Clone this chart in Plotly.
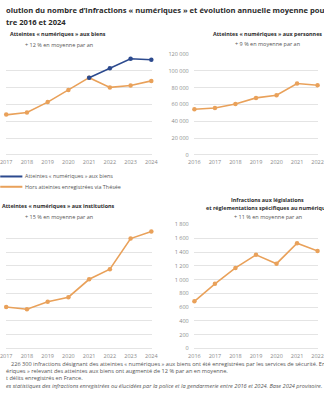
import plotly.graph_objects as go

W, H = 324, 400

years = [2016, 2017, 2018, 2019, 2020, 2021, 2022, 2023, 2024]
year_labels = [str(y) for y in years]

biens_hors_thesee = [90000, 96000, 100700, 125600, 154200, 183700, 160500, 165000, 176000]
biens_total = [None, None, None, None, None, 183700, 206000, 228600, 226300]
personnes = [54300, 55800, 60500, 67800, 70900, 84900, 82900, 93000, 104000]
institutions = [1400, 1507, 1426, 1695, 1862, 2511, 2879, 3989, 4248]
legislations = [684, 939, 1170, 1359, 1231, 1529, 1416, 1490, 1580]

ORANGE = "#E9A15A"
BLUE = "#2C4A8E"
GRID = "#E4E4E4"
TICK = "#8A8A8A"
TEXT = "#555555"
DARK = "#2B2B2B"
FONT = "Open Sans"


def px(x):
    return x / W


def py(y):
    return 1 - y / H


fig = go.Figure()

dom_x_left = [px(0), px(152)]
dom_x_right = [px(195), 1.0]
dom_y_top = [py(154), py(51)]
dom_y_bot = [py(351.5), py(225)]


def add_line(x, y, color, xa, ya, name):
    fig.add_trace(go.Scatter(
        x=x, y=y, mode="lines+markers", name=name,
        line=dict(color=color, width=1.6),
        marker=dict(color=color, size=4.5),
        xaxis=xa, yaxis=ya, showlegend=False, cliponaxis=False,
        connectgaps=False,
    ))


add_line(years, biens_hors_thesee, ORANGE, "x", "y", "Hors atteintes enregistrées via Thésée")
add_line(years, biens_total, BLUE, "x", "y", "Atteintes « numériques » aux biens")
add_line(years, personnes, ORANGE, "x2", "y2", "Atteintes « numériques » aux personnes")
add_line(years, institutions, ORANGE, "x3", "y3", "Atteintes « numériques » aux institutions")
add_line(years, legislations, ORANGE, "x4", "y4", "Infractions aux législations")

xcommon = dict(tickmode="array", tickvals=years, ticktext=year_labels, showgrid=False,
               zeroline=False, showline=False, ticks="", ticklabeloverflow="allow",
               tickfont=dict(family=FONT, size=5.5, color=TICK), ticklabelstandoff=3)
ycommon = dict(showgrid=True, gridcolor=GRID, gridwidth=1, zeroline=True,
               zerolinecolor=GRID, zerolinewidth=1, showline=False, ticks="",
               tickformat=",d", tickfont=dict(family=FONT, size=5.5, color=TICK),
               ticklabelstandoff=4)

fig.update_layout(
    width=W, height=H, margin=dict(l=0, r=0, t=0, b=0),
    paper_bgcolor="white", plot_bgcolor="white",
    separators=", ",
    font=dict(family=FONT, color=TEXT),
    showlegend=False,
    xaxis=dict(domain=dom_x_left, range=[2016.99, 2024.05], anchor="y", **xcommon),
    yaxis=dict(domain=dom_y_top, range=[0, 240000], dtick=40000, anchor="x",
               showticklabels=False, **ycommon),
    xaxis2=dict(domain=dom_x_right, range=[2015.97, 2022.02], anchor="y2", **xcommon),
    yaxis2=dict(domain=dom_y_top, range=[0, 120000], dtick=20000, anchor="x2", **ycommon),
    xaxis3=dict(domain=dom_x_left, range=[2016.99, 2024.05], anchor="y3", **xcommon),
    yaxis3=dict(domain=dom_y_bot, range=[0, 4500], dtick=500, anchor="x3",
                showticklabels=False, **ycommon),
    xaxis4=dict(domain=dom_x_right, range=[2015.97, 2022.02], anchor="y4", **xcommon),
    yaxis4=dict(domain=dom_y_bot, range=[0, 1800], dtick=200, anchor="x4", **ycommon),
)

annotations = []


def txt(x, y, text, size, color, anchor="left", bold=False, italic=False, xshift=0):
    t = text
    if bold:
        t = "<b>" + t + "</b>"
    if italic:
        t = "<i>" + t + "</i>"
    annotations.append(dict(
        x=px(x), y=py(y), xref="paper", yref="paper", text=t, showarrow=False,
        xanchor=anchor, yanchor="middle", borderpad=0, xshift=xshift,
        font=dict(family=FONT, size=size, color=color),
    ))


# main title (cropped at the left and right edges in the reference)
txt(0, 6.5, "olution du nombre d’infractions « numériques » et évolution annuelle moyenne pour chaque type d’infraction",
    7.6, DARK, bold=True, xshift=-1)
txt(0, 18.5, "tre 2016 et 2024", 7.6, DARK, bold=True, xshift=-1)

# panel titles
txt(54, 31, "Atteintes « numériques » aux biens", 5.4, DARK, anchor="center", bold=True)
txt(55, 42, "+ 12 % en moyenne par an", 5.5, TEXT, anchor="center")
txt(272, 31, "Atteintes « numériques » aux personnes", 5.4, DARK, anchor="center", bold=True)
txt(272, 41, "+ 9 % en moyenne par an", 5.5, TEXT, anchor="center")
txt(55, 206, "Atteintes « numériques » aux institutions", 5.4, DARK, anchor="center", bold=True)
txt(55, 217, "+ 15 % en moyenne par an", 5.5, TEXT, anchor="center")
txt(272, 200, "Infractions aux législations", 5.4, DARK, anchor="center", bold=True)
txt(272, 208.5, "et réglementations spécifiques au numérique", 5.4, DARK, anchor="center", bold=True)
txt(272, 217, "+ 11 % en moyenne par an", 5.5, TEXT, anchor="center")

# legend (manual, compact)
shapes = []
for yy, col, label in [(176, BLUE, "Atteintes « numériques » aux biens"),
                       (186.5, ORANGE, "Hors atteintes enregistrées via Thésée")]:
    shapes.append(dict(type="line", xref="paper", yref="paper",
                       x0=px(-6), x1=px(17), y0=py(yy), y1=py(yy),
                       line=dict(color=col, width=2)))
    txt(19, yy, label, 5.4, TEXT)

# footnotes (cropped at the left and right edges in the reference)
txt(4, 367, "226 300 infractions désignant des atteintes « numériques » aux biens ont été enregistrées par les services de sécurité. Entre 2016 et 2024, les infractions",
    5.6, TEXT)
txt(0, 374.5, "ériques » relevant des atteintes aux biens ont augmenté de 12 % par an en moyenne.",
    5.6, TEXT, xshift=-1)
txt(0, 382, "t délits enregistrés en France.", 5.6, TEXT, xshift=-1)
txt(0, 390, "es statistiques des infractions enregistrées ou élucidées par la police et la gendarmerie entre 2016 et 2024. Base 2024 provisoire.",
    5.6, TEXT, italic=True, xshift=-1)

fig.update_layout(annotations=annotations, shapes=shapes)

fig.write_html("out.html")
